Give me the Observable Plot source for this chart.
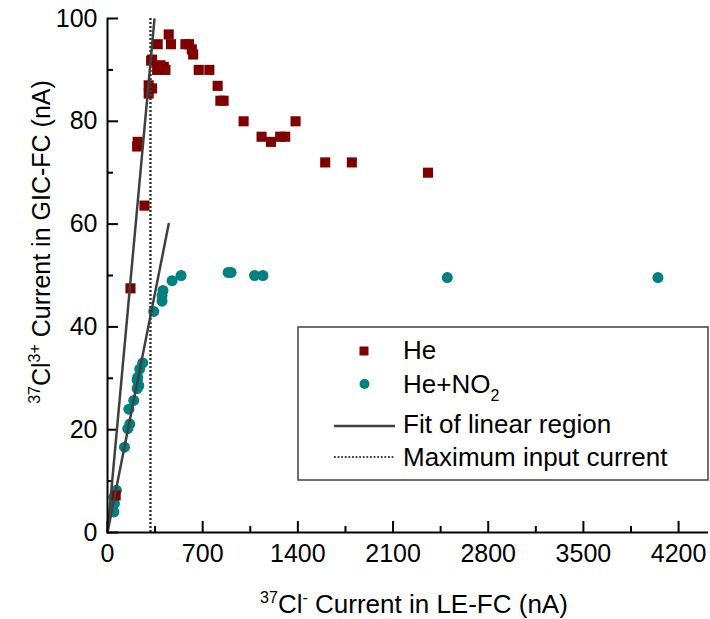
<!DOCTYPE html>
<html><head><meta charset="utf-8">
<script src="https://cdn.jsdelivr.net/npm/d3@7"></script>
<script src="https://cdn.jsdelivr.net/npm/@observablehq/plot@0.6"></script>
<style>
body{margin:0;background:#fff}
#chart{width:710px;height:619px}
</style>
</head><body><div id="chart"></div>
<script>
// ---- data ----
const heIn  = [60,169,272,218,222,303,303,328,321,328,365,389,414,426,369,450,467,573,600,620,630,671,749,810,830,854,1001,1133,1202,1270,1307,1383,1601,1797,2357];
const heOut = [7.2,47.5,63.6,75.1,76,85.4,87,86.4,91.8,92,90,90.9,90.6,90,95,96.9,95,95,95,94,93,90,90,86.9,84,84,80,77,76,77,77,80,72,72,70];
const no2In  = [47,51,47,66,125,149,164,157,193,218,230,218,222,237,259,340,401,401,408,475,541,887,909,1082,1143,2499,4048];
const no2Out = [4,5.6,6.9,8.2,16.6,20.2,21.1,24,25.7,28,28.6,29.6,30.2,31.8,33,43,45,46.1,47.1,49,50,50.6,50.6,50,50,49.6,49.6];
const heFitX = [0,345], heFitY = [0,99.8];
const no2FitX = [0,450], no2FitY = [0,60];
const maxInputCurrent = [316];
const xMajor = [0,700,1400,2100,2800,3500,4200];
const xMinor = [350,1050,1750,2450,3150,3850];
const yMajor = [0,20,40,60,80,100];
const yMinor = [10,30,50,70,90];
const legendLabels = ["He","He+NO","Fit of linear region","Maximum input current"];

const heData = heIn.map((x,i)=>({x, y: heOut[i]}));
const no2Data = no2In.map((x,i)=>({x, y: no2Out[i]}));
const heFit = heFitX.map((x,i)=>({x, y: heFitY[i]}));
const no2Fit = no2FitX.map((x,i)=>({x, y: no2FitY[i]}));

const RED = "#800000", TEAL = "#008080", LINE = "#404040";
const W = 710, H = 619, mL = 107, mR = 2, mT = 18, mB = 87;
const xMax = 4420;
const pxPerX = (W - mL - mR) / xMax, pxPerY = (H - mT - mB) / 100;
const tickLenY = 11 / pxPerY, minorLenY = 6 / pxPerY;
const tickLenX = 11 / pxPerX, minorLenX = 6 / pxPerX;

const chart = Plot.plot({
  width: W, height: H,
  marginLeft: mL, marginRight: mR, marginTop: mT, marginBottom: mB,
  style: {fontFamily: "'Liberation Sans', Arial, sans-serif", fontSize: "25px", color: "#000", background: "#fff"},
  x: {domain: [0, xMax]},
  y: {domain: [0, 100]},
  marks: [
    Plot.axisX({ticks: xMajor, tickSize: 0, tickPadding: 12, label: null, fontSize: 25, tickFormat: d => String(d)}),
    Plot.axisY({ticks: yMajor, tickSize: 0, tickPadding: 10, label: null, fontSize: 25}),
    // inward ticks
    Plot.ruleX(xMajor, {y1: 0, y2: tickLenY, stroke: "#000", strokeWidth: 2}),
    Plot.ruleX(xMinor, {y1: 0, y2: minorLenY, stroke: "#000", strokeWidth: 2}),
    Plot.ruleY(yMajor, {x1: 0, x2: tickLenX, stroke: "#000", strokeWidth: 2}),
    Plot.ruleY(yMinor, {x1: 0, x2: minorLenX, stroke: "#000", strokeWidth: 2}),
    Plot.dot(no2Data, {x: "x", y: "y", r: 5.5, fill: TEAL, symbol: "circle"}),
    Plot.dot(heData, {x: "x", y: "y", r: 5.7, fill: RED, symbol: "square"}),
    Plot.line(heFit, {x: "x", y: "y", stroke: LINE, strokeWidth: 2.5}),
    Plot.line(no2Fit, {x: "x", y: "y", stroke: LINE, strokeWidth: 2.5}),
    Plot.ruleX(maxInputCurrent, {y1: 0, y2: 100, stroke: "#3a3a3a", strokeWidth: 2.5, strokeDasharray: "2,2"}),
    Plot.ruleY([0], {stroke: "#000", strokeWidth: 2}),
    Plot.ruleX([0], {stroke: "#000", strokeWidth: 2})
  ]
});
document.getElementById("chart").appendChild(chart);

// ---- axis titles and legend (text with super/subscripts) ----
const svg = d3.select(chart);
const FF = "'Liberation Sans', Arial, sans-serif";
function addRich(parent, parts, attrs) {
  const t = parent.append("text").attr("font-family", FF).attr("fill", "#000").attr("text-anchor", "start");
  for (const k in attrs) t.attr(k, attrs[k]);
  let shift = 0;
  for (const p of parts) {
    const s = p.shift || 0;
    t.append("tspan").attr("dy", s - shift).attr("font-size", p.size).text(p.t);
    shift = s;
  }
  return t;
}
addRich(svg, [
  {t: "37", size: 16, shift: -10}, {t: "Cl", size: 26}, {t: "-", size: 16, shift: -10},
  {t: " Current in LE-FC (nA)", size: 26}
], {x: 414, y: 613, "text-anchor": "middle"});
addRich(svg, [
  {t: "37", size: 16, shift: -10}, {t: "Cl", size: 25}, {t: "3+", size: 16, shift: -10},
  {t: " Current in GIC-FC (nA)", size: 25}
], {transform: "translate(50,242) rotate(-90)", "text-anchor": "middle"});

const lg = svg.append("g");
lg.append("rect").attr("x", 298).attr("y", 327).attr("width", 410).attr("height", 153)
  .attr("fill", "#fff").attr("stroke", "#404040").attr("stroke-width", 1.5);
lg.append("rect").attr("x", 359.5).attr("y", 346.5).attr("width", 9).attr("height", 9).attr("fill", RED);
lg.append("circle").attr("cx", 364.5).attr("cy", 384).attr("r", 5).attr("fill", TEAL);
lg.append("line").attr("x1", 334).attr("x2", 395).attr("y1", 426).attr("y2", 426).attr("stroke", LINE).attr("stroke-width", 2.5);
lg.append("line").attr("x1", 334).attr("x2", 395).attr("y1", 457).attr("y2", 457).attr("stroke", "#404040").attr("stroke-width", 1.8).attr("stroke-dasharray", "1.8,1.8");
addRich(lg, [{t: legendLabels[0], size: 26}], {x: 403, y: 359});
addRich(lg, [{t: legendLabels[1], size: 26}, {t: "2", size: 16, shift: 8}], {x: 403, y: 393});
addRich(lg, [{t: legendLabels[2], size: 26}], {x: 403, y: 433});
addRich(lg, [{t: legendLabels[3], size: 26}], {x: 403, y: 466});
</script>
</body></html>
